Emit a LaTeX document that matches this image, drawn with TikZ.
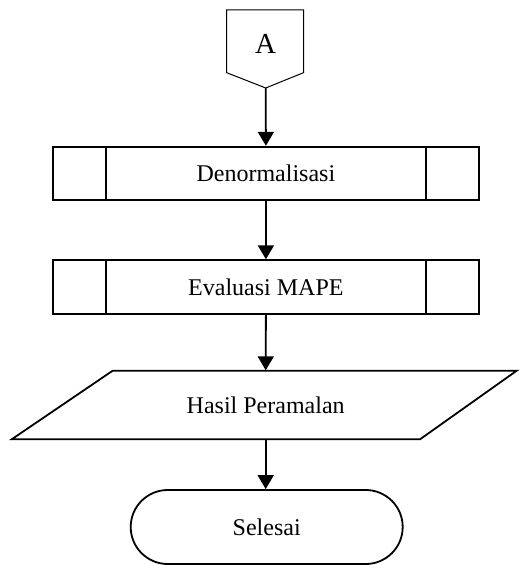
\documentclass[tikz,border=0pt]{standalone}
\usepackage{fontspec}
\setmainfont{Liberation Serif}
\usetikzlibrary{arrows.meta}
\begin{document}
\begin{tikzpicture}[x=0.5pt,y=-0.5pt,
  thick line/.style={line width=0.9pt},
  procbox/.style={draw,thick line,minimum width=213.2pt,minimum height=26.8pt,inner sep=0pt,font=\fontsize{12}{14}\selectfont},
  lbl/.style={inner sep=0pt,font=\fontsize{12}{14}\selectfont},
  flow/.style={thick line,-{Triangle[length=7pt,width=8pt]}},
  term/.style={draw,thick line,rounded corners=18.5pt,minimum width=136pt,minimum height=37pt,inner sep=0pt,font=\fontsize{12}{14}\selectfont}
]
\useasboundingbox (0,0) rectangle (519,565);
% off-page connector
\draw[line width=0.5pt] (226.7,10) -- (303.5,10) -- (303.5,72.7) -- (265.7,88) -- (226.7,72.7) -- cycle;
\node[inner sep=0pt,font=\fontsize{14.5}{16}\selectfont] (A) at (265.5,44) {A};
\coordinate (Ap) at (265.7,88);
% predefined processes
\node[procbox] (b1) at (265.9,173.5) {Denormalisasi};
\draw[thick line] ([xshift=27pt]b1.north west) -- ([xshift=27pt]b1.south west);
\draw[thick line] ([xshift=-27pt]b1.north east) -- ([xshift=-27pt]b1.south east);
\node[procbox] (b2) at (265.9,287) {Evaluasi MAPE};
\draw[thick line] ([xshift=27pt]b2.north west) -- ([xshift=27pt]b2.south west);
\draw[thick line] ([xshift=-27pt]b2.north east) -- ([xshift=-27pt]b2.south east);
% data parallelogram
\draw[thick line] (112.7,370.7) -- (516.7,370.7) -- (420,439.3) -- (11.7,439.3) -- cycle;
\node[lbl,minimum height=34.3pt,minimum width=100pt] (p) at (265.7,405) {Hasil Peramalan};
% terminator
\node[term] (t) at (266.7,527) {Selesai};
% connectors
\draw[flow] (Ap) -- (b1.north);
\draw[flow] (b1.south) -- (b2.north);
\draw[flow] (b2.south) -- (p.north);
\draw[flow] (p.south) -- (p.south |- t.north);
\end{tikzpicture}
\end{document}
